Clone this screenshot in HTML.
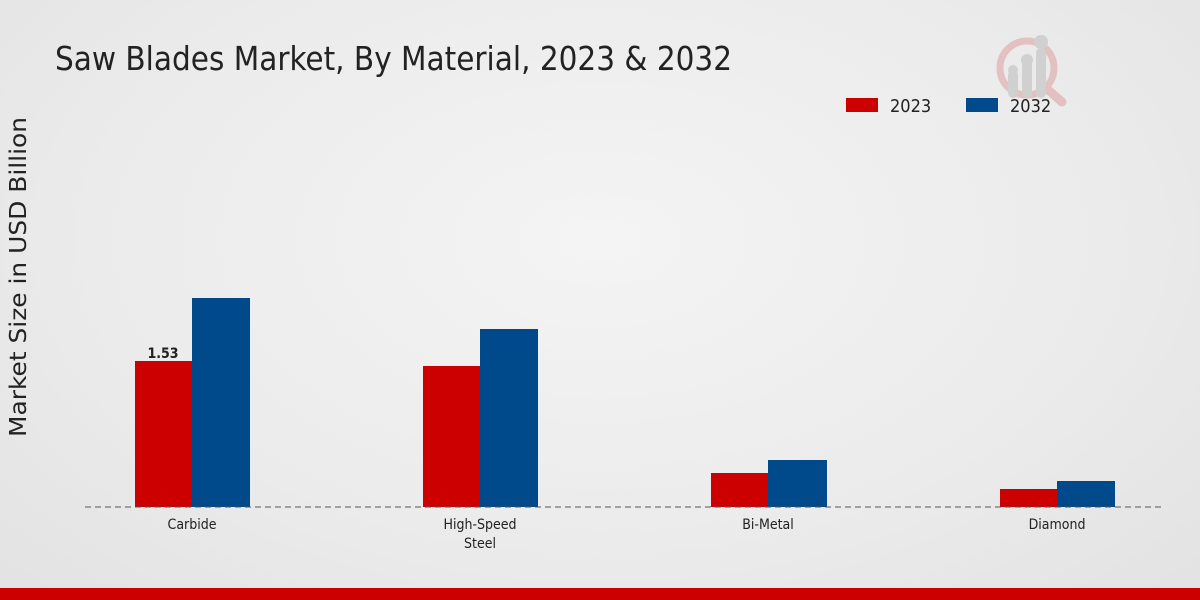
<!DOCTYPE html>
<html><head><style>
body{margin:0;width:1200px;height:600px;overflow:hidden;background:radial-gradient(ellipse at 50% 40%,#f4f4f4 0%,#ebebeb 60%,#e2e2e2 100%);font-family:"DejaVu Sans Condensed","Liberation Sans Narrow","Liberation Sans",sans-serif;}
</style></head><body>
<svg width="1200" height="600" xmlns="http://www.w3.org/2000/svg" style="position:absolute;left:0;top:0">
<text x="55" y="70" font-size="33" textLength="677" lengthAdjust="spacingAndGlyphs" fill="#222" font-family="DejaVu Sans Condensed, Liberation Sans Narrow, sans-serif">Saw Blades Market, By Material, 2023 &amp; 2032</text>
<g opacity="0.55">
<circle cx="1027" cy="68" r="27" fill="none" stroke="#e0a0a0" stroke-width="7"/>
<line x1="1046" y1="88" x2="1062" y2="102" stroke="#e0a0a0" stroke-width="9" stroke-linecap="round"/>
<rect x="1008" y="70" width="10" height="28" rx="5" fill="#bbb"/>
<rect x="1022" y="58" width="10" height="40" rx="5" fill="#bbb"/>
<rect x="1036" y="48" width="10" height="50" rx="5" fill="#bbb"/>
<circle cx="1013" cy="70" r="5" fill="#bbb"/><circle cx="1027" cy="60" r="6" fill="#bbb"/><circle cx="1041" cy="42" r="7" fill="#bbb"/>
</g>
<rect x="846" y="98" width="32" height="14" fill="#cc0000"/>
<text x="890" y="112" font-size="18" fill="#222">2023</text>
<rect x="966" y="98" width="32" height="14" fill="#004a8c"/>
<text x="1010" y="112" font-size="18" fill="#222">2032</text>
<text transform="translate(26,277) rotate(-90)" text-anchor="middle" font-size="23" textLength="320" lengthAdjust="spacingAndGlyphs" fill="#222" font-family="DejaVu Sans, sans-serif">Market Size in USD Billion</text>
<rect x="135" y="361" width="57" height="146" fill="#cc0000"/>
<rect x="192" y="298" width="58" height="209" fill="#004a8c"/>
<rect x="423" y="366" width="57" height="141" fill="#cc0000"/>
<rect x="480" y="329" width="58" height="178" fill="#004a8c"/>
<rect x="711" y="473" width="57" height="34" fill="#cc0000"/>
<rect x="768" y="460" width="59" height="47" fill="#004a8c"/>
<rect x="1000" y="489" width="57" height="18" fill="#cc0000"/>
<rect x="1057" y="481" width="58" height="26" fill="#004a8c"/>
<line x1="85" y1="507" x2="1165" y2="507" stroke="#555" stroke-width="1" stroke-dasharray="6,4"/>
<text x="163" y="358" text-anchor="middle" font-size="14" font-weight="bold" fill="#222">1.53</text>
<g font-size="14" fill="#222" text-anchor="middle">
<text x="192" y="529">Carbide</text>
<text x="480" y="529">High-Speed</text><text x="480" y="548">Steel</text>
<text x="768" y="529">Bi-Metal</text>
<text x="1057" y="529">Diamond</text>
</g>
<rect x="0" y="588" width="1200" height="12" fill="#cc0000"/>
</svg>
</body></html>
